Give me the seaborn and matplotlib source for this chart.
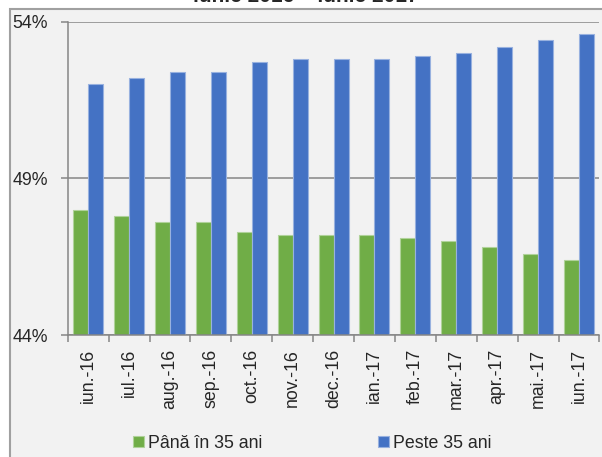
import numpy as np
import pandas as pd
import seaborn as sns
import matplotlib
matplotlib.use("Agg")
import matplotlib.pyplot as plt
from matplotlib.patches import Rectangle
from matplotlib.ticker import FixedLocator

sns.set_style("white")
plt.rcParams['font.family'] = ['Liberation Sans Narrow', 'Liberation Sans', 'DejaVu Sans']

luni = ['iun.-16', 'iul.-16', 'aug.-16', 'sep.-16', 'oct.-16', 'nov.-16', 'dec.-16',
        'ian.-17', 'feb.-17', 'mar.-17', 'apr.-17', 'mai.-17', 'iun.-17']
pana_35 = [48.0, 47.8, 47.6, 47.6, 47.3, 47.2, 47.2, 47.2, 47.1, 47.0, 46.8, 46.6, 46.4]
peste_35 = [52.0, 52.2, 52.4, 52.4, 52.7, 52.8, 52.8, 52.8, 52.9, 53.0, 53.2, 53.4, 53.6]
serii = ['Până în 35 ani', 'Peste 35 ani']
titlu = 'iunie 2016 – iunie 2017'

green = '#70ad47'
blue = '#4472c4'
gray = '#868686'
bg = '#f2f2f2'
fs = 12.8

df = pd.DataFrame({'luna': luni * 2,
                   'val': pana_35 + peste_35,
                   'serie': [serii[0]] * len(luni) + [serii[1]] * len(luni)})

fig = plt.figure(figsize=(6.02, 4.57), dpi=100, facecolor='white')
# chart area panel (cropped on right and bottom)
fig.patches.append(Rectangle((10 / 602, -0.05), 1.0, 1 - 9 / 457 + 0.05,
                             transform=fig.transFigure, facecolor=bg,
                             edgecolor='#a0a0a0', linewidth=1.5, zorder=-10))
ax = fig.add_axes([67.7 / 602, 1 - 335 / 457, (599.4 - 67.7) / 602, (335 - 21.7) / 457])
ax.set_facecolor(bg)

sns.barplot(data=df, x='luna', y='val', hue='serie', palette=[green, blue],
            width=0.735, ax=ax, linewidth=0.8, saturation=1)
for p in ax.patches:
    fc = p.get_facecolor()
    p.set_edgecolor(tuple(0.55 * np.array(fc[:3]) + 0.45) + (1,))

ax.set_ylim(44, 54)
ax.set_xlim(-0.5, len(luni) - 0.5)
ax.yaxis.set_major_locator(FixedLocator([44, 49, 54]))
ax.set_yticklabels(['44%', '49%', '54%'])
ax.yaxis.grid(True, color=gray, linewidth=1.1)
ax.set_axisbelow(True)
ax.set_xlabel('')
ax.set_ylabel('')

ax.xaxis.set_minor_locator(FixedLocator(np.arange(-0.5, len(luni), 1)))
ax.tick_params(axis='x', which='major', length=0, pad=10, labelsize=fs, labelrotation=90)
ax.tick_params(axis='x', which='minor', length=5, width=1.1, color=gray, direction='out', bottom=True)
ax.tick_params(axis='y', length=5, width=1.1, color=gray, direction='out', left=True,
               pad=9, labelsize=fs)
for s in ['top', 'right']:
    ax.spines[s].set_visible(False)
for s in ['left', 'bottom']:
    ax.spines[s].set_color(gray)
    ax.spines[s].set_linewidth(1.1)

h, l = ax.get_legend_handles_labels()
ax.legend(h, l, loc='center', bbox_to_anchor=(0.519, 0.03), bbox_transform=fig.transFigure,
          ncol=2, frameon=False, fontsize=fs, handlelength=0.62, handleheight=0.62,
          handletextpad=0.22, columnspacing=6.5)

fig.text(306 / 602, 1 - 2 / 457, titlu, ha='center', va='baseline',
         fontsize=15, fontweight='bold')

fig.savefig('out.png', dpi=100, facecolor='white')
